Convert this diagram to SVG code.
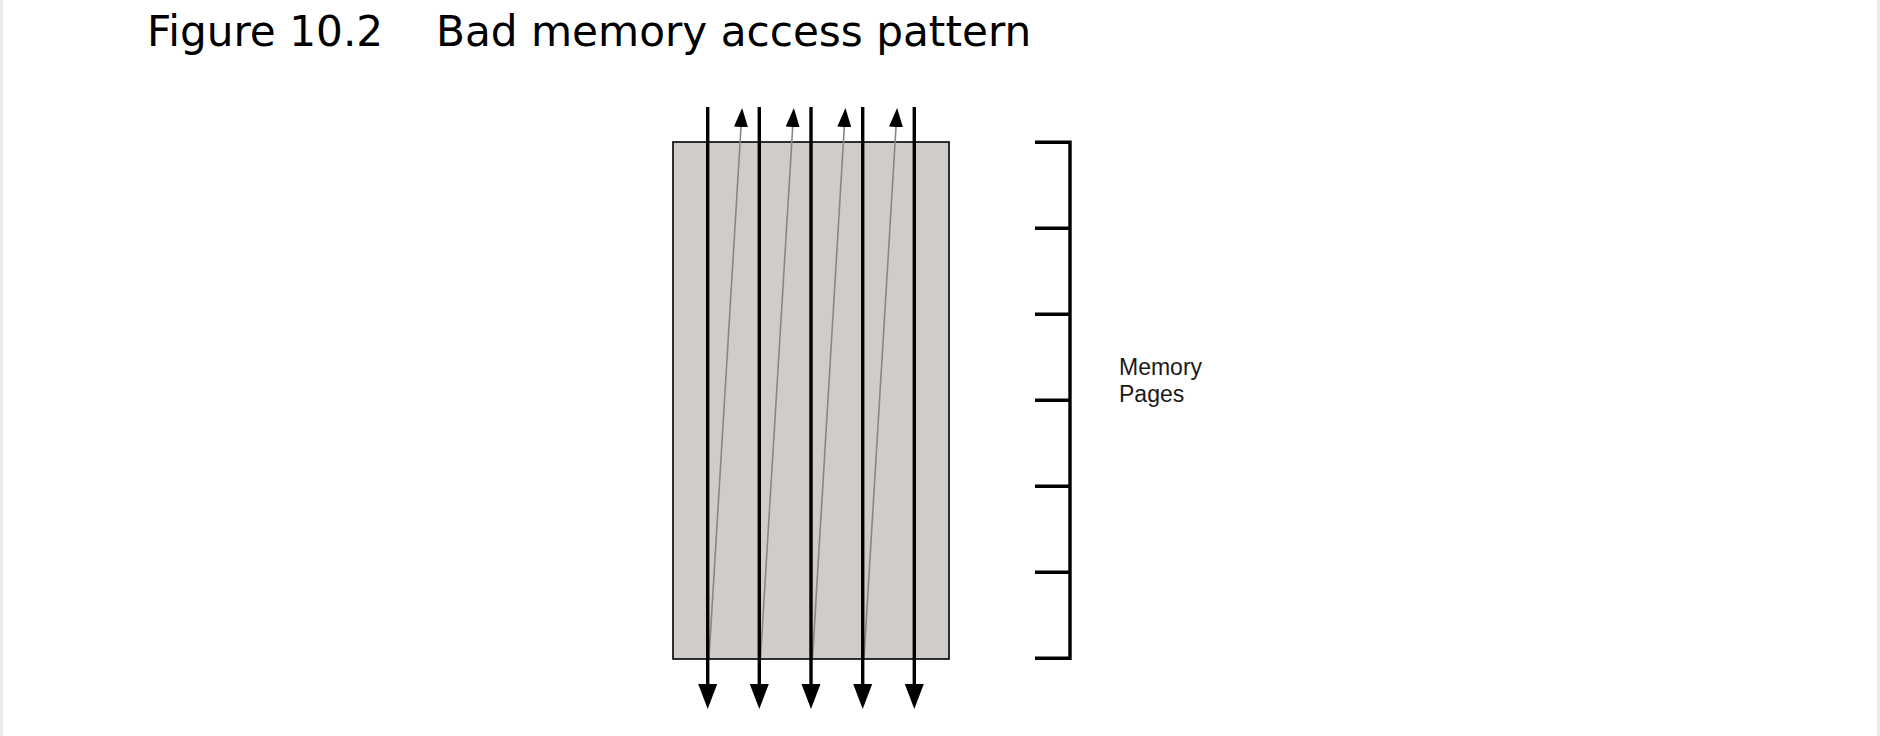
<svg xmlns="http://www.w3.org/2000/svg" width="1880" height="736" viewBox="0 0 1880 736">
<style>
.title{font-family:"DejaVu Sans",sans-serif;font-size:42.2px;fill:#000}
.lbl{font-family:"Liberation Sans",Arial,sans-serif;font-size:23px;fill:#1a1a1a}
.blk{stroke:#000;stroke-width:3.4;fill:none}
.gry{stroke:#8a8684;stroke-width:1.6;fill:none}
.brk{stroke:#000;stroke-width:3.4;fill:none}
</style>
<defs>
<marker id="ahB" markerUnits="userSpaceOnUse" markerWidth="30" markerHeight="24" refX="0" refY="10" orient="auto" viewBox="0 0 30 20">
<path d="M0,0.5 L25,10 L0,19.5 z" fill="#000"/>
</marker>
<marker id="ahG" markerUnits="userSpaceOnUse" markerWidth="24" markerHeight="18" refX="0" refY="8" orient="auto" viewBox="0 0 24 16">
<path d="M0,1 L19,8 L0,15 z" fill="#000"/>
</marker>
</defs>
<rect x="0" y="0" width="1880" height="736" fill="#fff"/>
<rect x="0" y="0" width="3" height="736" fill="#ebebeb"/>
<rect x="1877" y="0" width="3" height="736" fill="#ebebeb"/>
<g id="title">
<text class="title" x="147" y="46">Figure 10.2</text>
<text class="title" x="436" y="46">Bad memory access pattern</text>
</g>
<g id="memory-block">
<rect x="673" y="142" width="276" height="517" fill="#d0ccc9" stroke="#000" stroke-width="1.6"/>
</g>
<g id="connectors">
<line class="gry" x1="709" y1="658" x2="741" y2="127" marker-end="url(#ahG)"/>
<line class="gry" x1="760.5" y1="658" x2="792.7" y2="127" marker-end="url(#ahG)"/>
<line class="gry" x1="812.5" y1="658" x2="844.3" y2="127" marker-end="url(#ahG)"/>
<line class="gry" x1="864" y1="658" x2="896" y2="127" marker-end="url(#ahG)"/>
<line class="blk" x1="707.7" y1="107" x2="707.7" y2="684" marker-end="url(#ahB)"/>
<line class="blk" x1="759.3" y1="107" x2="759.3" y2="684" marker-end="url(#ahB)"/>
<line class="blk" x1="811" y1="107" x2="811" y2="684" marker-end="url(#ahB)"/>
<line class="blk" x1="862.7" y1="107" x2="862.7" y2="684" marker-end="url(#ahB)"/>
<line class="blk" x1="914.3" y1="107" x2="914.3" y2="684" marker-end="url(#ahB)"/>
</g>
<g id="pages-bracket">
<path class="brk" d="M1035,142.3 H1070 V658.3 H1035 M1035,228.3 H1070 M1035,314.3 H1070 M1035,400.3 H1070 M1035,486.3 H1070 M1035,572.3 H1070"/>
</g>
<g id="pages-label">
<text class="lbl" x="1119" y="375">Memory</text>
<text class="lbl" x="1119" y="402">Pages</text>
</g>
</svg>
